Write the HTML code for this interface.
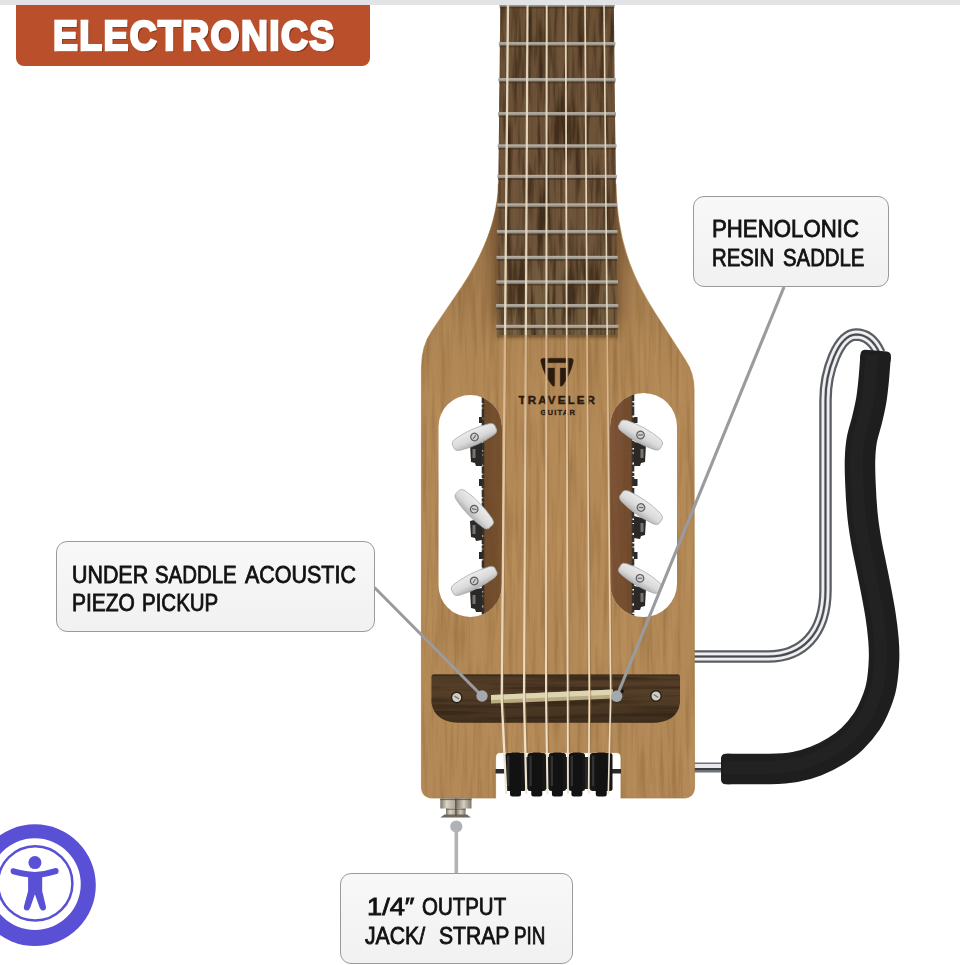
<!DOCTYPE html>
<html lang="en">
<head>
<meta charset="utf-8">
<title>Electronics - Traveler Guitar</title>
<style>
html,body{margin:0;padding:0;background:#fff;}
body{width:960px;height:965px;position:relative;overflow:hidden;font-family:"Liberation Sans",sans-serif;}
#topbar{position:absolute;left:0;top:0;width:960px;height:4.5px;background:#e2e3e5;}
#banner{position:absolute;left:16px;top:4.5px;width:354px;height:61px;background:#ba4f2c;border-radius:0 0 8px 8px;}
#banner span{position:absolute;left:37px;top:8.6px;font-weight:bold;font-size:42.5px;line-height:46px;color:#fff;white-space:nowrap;transform-origin:0 50%;transform:scaleX(0.877);letter-spacing:1.6px;text-shadow:2.3px 2.3px 0.5px #83341a;-webkit-text-stroke:2.6px #fff;}
#art{position:absolute;left:0;top:0;}
.label{position:absolute;box-sizing:border-box;background:linear-gradient(#f8f8f8,#f1f1f1);border:1px solid #9a9a9a;border-radius:11px;color:#111;font-size:23.4px;white-space:nowrap;-webkit-text-stroke:0.8px #111;}
.label span{position:absolute;display:block;transform-origin:0 50%;}
#l1{left:693px;top:196px;width:196px;height:91px;line-height:29.4px;}
#l2{left:56px;top:540.5px;width:318.5px;height:91.5px;line-height:28.4px;}
#l3{left:340px;top:873px;width:233px;height:90.5px;line-height:28.4px;}
</style>
</head>
<body>
<svg id="art" width="960" height="965" viewBox="0 0 960 965">
<defs>
  <linearGradient id="gBody" x1="0" y1="196" x2="0" y2="800" gradientUnits="userSpaceOnUse">
    <stop offset="0.000" stop-color="#967148"/>
    <stop offset="0.089" stop-color="#9e774c"/>
    <stop offset="0.156" stop-color="#a67e50"/>
    <stop offset="0.238" stop-color="#ad8453"/>
    <stop offset="0.338" stop-color="#b38957"/>
    <stop offset="0.454" stop-color="#b38957"/>
    <stop offset="1.000" stop-color="#b38957"/>
  </linearGradient>
  <linearGradient id="gFoamV" x1="0" y1="0" x2="1" y2="0">
    <stop offset="0" stop-color="#2a2a2a"/><stop offset="0.5" stop-color="#1c1c1c"/><stop offset="1" stop-color="#111"/>
  </linearGradient>

  <linearGradient id="gKnob" x1="0" y1="0" x2="0" y2="1">
    <stop offset="0" stop-color="#ececec"/><stop offset="0.6" stop-color="#d9d9d9"/><stop offset="1" stop-color="#b0b0b0"/>
  </linearGradient>
  <linearGradient id="gWallL" x1="0" y1="0" x2="1" y2="0">
    <stop offset="0" stop-color="#6e4a2b"/><stop offset="1" stop-color="#7c5534"/>
  </linearGradient>
  <linearGradient id="gWallR" x1="0" y1="0" x2="1" y2="0">
    <stop offset="0" stop-color="#80563a"/><stop offset="1" stop-color="#704a2c"/>
  </linearGradient>
  <linearGradient id="gFb" x1="0" y1="4" x2="0" y2="335" gradientUnits="userSpaceOnUse">
    <stop offset="0" stop-color="#6b5136"/><stop offset="0.7" stop-color="#6d5339"/><stop offset="1" stop-color="#766041"/>
  </linearGradient>
  <pattern id="pGrain" width="23" height="60" patternUnits="userSpaceOnUse">
    <rect x="2" y="0" width="1.5" height="60" fill="#4c351c" opacity="0.5"/>
    <rect x="7" y="0" width="2.5" height="60" fill="#8a6a46" opacity="0.35"/>
    <rect x="13" y="0" width="1.2" height="60" fill="#4c351c" opacity="0.45"/>
    <rect x="18" y="0" width="2" height="60" fill="#86653f" opacity="0.35"/>
  </pattern>
  <linearGradient id="gBridge" x1="0" y1="674" x2="0" y2="723" gradientUnits="userSpaceOnUse">
    <stop offset="0" stop-color="#4c3824"/><stop offset="0.3" stop-color="#564029"/><stop offset="0.6" stop-color="#4e3a25"/><stop offset="0.85" stop-color="#463321"/><stop offset="1" stop-color="#3e2c1c"/>
  </linearGradient>
  <linearGradient id="gJack" x1="0" y1="0" x2="1" y2="0">
    <stop offset="0" stop-color="#7d7567"/><stop offset="0.2" stop-color="#d9d4c6"/><stop offset="0.45" stop-color="#b3ab9a"/><stop offset="0.55" stop-color="#8d8474"/><stop offset="0.75" stop-color="#d6d0c2"/><stop offset="1" stop-color="#7d7567"/>
  </linearGradient>

  <filter id="fGrainD" x="0" y="0" width="100%" height="100%" color-interpolation-filters="sRGB">
    <feTurbulence type="fractalNoise" baseFrequency="0.22 0.012" numOctaves="3" seed="7" result="n"/>
    <feColorMatrix in="n" type="matrix" values="0 0 0 0 0.40  0 0 0 0 0.26  0 0 0 0 0.10  2.6 0 0 0 -1.15" result="c"/>
    <feComposite in="c" in2="SourceGraphic" operator="in"/>
  </filter>
  <filter id="fGrainL" x="0" y="0" width="100%" height="100%" color-interpolation-filters="sRGB">
    <feTurbulence type="fractalNoise" baseFrequency="0.18 0.010" numOctaves="3" seed="23" result="n"/>
    <feColorMatrix in="n" type="matrix" values="0 0 0 0 0.86  0 0 0 0 0.70  0 0 0 0 0.46  2.4 0 0 0 -1.1" result="c"/>
    <feComposite in="c" in2="SourceGraphic" operator="in"/>
  </filter>
  <filter id="fGrainFb" x="0" y="0" width="100%" height="100%" color-interpolation-filters="sRGB">
    <feTurbulence type="fractalNoise" baseFrequency="0.16 0.012" numOctaves="3" seed="11" result="n"/>
    <feColorMatrix in="n" type="matrix" values="0 0 0 0 0.20  0 0 0 0 0.13  0 0 0 0 0.07  3.2 0 0 0 -1.35" result="c"/>
    <feComposite in="c" in2="SourceGraphic" operator="in"/>
  </filter>

  <filter id="fGrainH" x="0" y="0" width="100%" height="100%" color-interpolation-filters="sRGB">
    <feTurbulence type="fractalNoise" baseFrequency="0.008 0.22" numOctaves="3" seed="5" result="n"/>
    <feColorMatrix in="n" type="matrix" values="0 0 0 0 0.16  0 0 0 0 0.11  0 0 0 0 0.06  3 0 0 0 -1.3" result="c"/>
    <feComposite in="c" in2="SourceGraphic" operator="in"/>
  </filter>

  <linearGradient id="gShL" x1="0" y1="0" x2="1" y2="0">
    <stop offset="0" stop-color="#5a3c1e" stop-opacity="0"/><stop offset="0.55" stop-color="#5a3c1e" stop-opacity="0.22"/><stop offset="1" stop-color="#5a3c1e" stop-opacity="0.55"/>
  </linearGradient>
  <linearGradient id="gShR" x1="1" y1="0" x2="0" y2="0">
    <stop offset="0" stop-color="#5a3c1e" stop-opacity="0"/><stop offset="0.55" stop-color="#5a3c1e" stop-opacity="0.22"/><stop offset="1" stop-color="#5a3c1e" stop-opacity="0.55"/>
  </linearGradient>
  <linearGradient id="gShB" x1="0" y1="0" x2="0" y2="1">
    <stop offset="0" stop-color="#5a3c1e" stop-opacity="0.45"/><stop offset="1" stop-color="#5a3c1e" stop-opacity="0"/>
  </linearGradient>
  <clipPath id="cBody"><path d="M498.4,184 C498,222 480,262 455,297 L432,331 Q421.5,346 421.5,368 L421.5,786 Q421.5,798 433.5,798 L495.5,798 L495.5,757.5 Q495.5,752.5 500.5,752.5 L616,752.5 Q621,752.5 621,757.5 L621,798 L683,798 Q694.5,798 694.5,786 L694,390 Q694,373 685.5,360.5 L655,313 C641,291 616.5,252 615.9,184 Z"/></clipPath>

  <linearGradient id="gShFade" x1="0" y1="180" x2="0" y2="344" gradientUnits="userSpaceOnUse">
    <stop offset="0" stop-color="#fff"/><stop offset="0.8" stop-color="#fff"/><stop offset="1" stop-color="#000"/>
  </linearGradient>
  <mask id="mShFade" maskUnits="userSpaceOnUse" x="470" y="170" width="180" height="180"><rect x="470" y="170" width="180" height="180" fill="url(#gShFade)"/></mask>

  <linearGradient id="gStr" x1="0" y1="335" x2="0" y2="800" gradientUnits="userSpaceOnUse">
    <stop offset="0" stop-color="#d2b08a"/><stop offset="0.15" stop-color="#d9bb96"/><stop offset="0.35" stop-color="#e2caa8"/><stop offset="0.75" stop-color="#eadcc2"/><stop offset="1" stop-color="#efe6d4"/>
  </linearGradient>
</defs>

<!-- SECTION: hardware arm -->
<g id="arm">
  <path d="M690,656.5 L768,656.5 C802,656.5 825.5,634 825.5,590 L825.5,400 C825.5,372 838,335 856,334.5 C867,334.5 874,341 879.5,353" fill="none" stroke="#5a5d62" stroke-width="12.5" stroke-linecap="butt"/>
  <path d="M690,656.5 L768,656.5 C802,656.5 825.5,634 825.5,590 L825.5,400 C825.5,372 838,335 856,334.5 C867,334.5 874,341 879.5,353" fill="none" stroke="#eff0f2" stroke-width="8"/>
  <path d="M690,656.5 L768,656.5 C802,656.5 825.5,634 825.5,590 L825.5,400 C825.5,372 838,335 856,334.5 C867,334.5 874,341 879.5,353" fill="none" stroke="#c4c6ca" stroke-width="3.2"/>
  <path d="M690,656.5 L768,656.5 C802,656.5 825.5,634 825.5,590 L825.5,400 C825.5,372 838,335 856,334.5 C867,334.5 874,341 879.5,353" fill="none" stroke="#48494e" stroke-width="2"/>
  <path d="M690,767.5 L724,767.5" fill="none" stroke="#6f7378" stroke-width="10"/>
  <path d="M690,766.5 L724,766.5" fill="none" stroke="#e8eaee" stroke-width="5"/>
  <path d="M690,769 L724,769" fill="none" stroke="#3c3f44" stroke-width="2"/>
  <path d="M875.6,356.0 C875.3,360.0 874.4,372.7 873.7,380.0 C873.0,387.3 872.4,393.3 871.3,400.0 C870.2,406.7 868.6,413.3 867.0,420.0 C865.4,426.7 863.0,433.3 861.8,440.0 C860.6,446.7 860.2,452.5 860.0,460.0 C859.8,467.5 860.1,475.8 860.5,485.0 C860.9,494.2 861.6,505.8 862.5,515.0 C863.4,524.2 864.6,531.7 866.0,540.0 C867.4,548.3 869.3,556.7 871.0,565.0 C872.7,573.3 874.4,581.7 876.0,590.0 C877.6,598.3 879.2,606.7 880.5,615.0 C881.8,623.3 882.9,632.5 883.5,640.0 C884.1,647.5 884.3,652.5 884.0,660.0 C883.7,667.5 882.8,677.8 881.5,685.0 C880.2,692.2 878.4,697.0 876.0,703.0 C873.6,709.0 871.0,715.0 867.0,721.0 C863.0,727.0 857.2,734.0 852.0,739.0 C846.8,744.0 842.0,747.3 836.0,751.0 C830.0,754.7 822.8,758.3 816.0,761.0 C809.2,763.7 802.7,765.7 795.0,767.0 C787.3,768.3 781.3,768.7 770.0,769.0 C758.7,769.3 734.2,769.0 727.0,769.0" fill="none" stroke="#1e1e1e" stroke-width="30.5" stroke-linecap="butt" stroke-linejoin="round"/>
  <rect x="-15.25" y="0" width="30.5" height="13" rx="4.5" fill="#1e1e1e" transform="translate(876.1,350.6) rotate(4.5)"/>
  <rect x="721" y="753.75" width="13" height="30.5" rx="4.5" fill="#1e1e1e"/>
  <path d="M875.6,356.0 C875.3,360.0 874.4,372.7 873.7,380.0 C873.0,387.3 872.4,393.3 871.3,400.0 C870.2,406.7 868.6,413.3 867.0,420.0 C865.4,426.7 863.0,433.3 861.8,440.0 C860.6,446.7 860.2,452.5 860.0,460.0 C859.8,467.5 860.1,475.8 860.5,485.0 C860.9,494.2 861.6,505.8 862.5,515.0 C863.4,524.2 864.6,531.7 866.0,540.0 C867.4,548.3 869.3,556.7 871.0,565.0 C872.7,573.3 874.4,581.7 876.0,590.0 C877.6,598.3 879.2,606.7 880.5,615.0 C881.8,623.3 882.9,632.5 883.5,640.0 C884.1,647.5 884.3,652.5 884.0,660.0 C883.7,667.5 882.8,677.8 881.5,685.0 C880.2,692.2 878.4,697.0 876.0,703.0 C873.6,709.0 871.0,715.0 867.0,721.0 C863.0,727.0 857.2,734.0 852.0,739.0 C846.8,744.0 842.0,747.3 836.0,751.0 C830.0,754.7 822.8,758.3 816.0,761.0 C809.2,763.7 802.7,765.7 795.0,767.0 C787.3,768.3 781.3,768.7 770.0,769.0 C758.7,769.3 734.2,769.0 727.0,769.0" fill="none" stroke="#303030" stroke-width="13" stroke-linecap="butt" opacity="0.25" transform="translate(-3.5,-1.5)"/>
</g>
<!-- SECTION: body -->
<g id="body">
  <path d="M498.4,184 C498,222 480,262 455,297 L432,331 Q421.5,346 421.5,368 L421.5,786 Q421.5,798 433.5,798 L495.5,798 L495.5,757.5 Q495.5,752.5 500.5,752.5 L616,752.5 Q621,752.5 621,757.5 L621,798 L683,798 Q694.5,798 694.5,786 L694,390 Q694,373 685.5,360.5 L655,313 C641,291 616.5,252 615.9,184 Z M438.5,426.75 A31.75,31.75 0 0 1 502,426.75 L502,585.25 A31.75,31.75 0 0 1 438.5,585.25 Z M610,426.5 A33.5,33.5 0 0 1 677,426.5 L677,583.5 A33.5,33.5 0 0 1 610,583.5 Z" fill="url(#gBody)" fill-rule="evenodd"/>
  <path d="M498.4,184 C498,222 480,262 455,297 L432,331 Q421.5,346 421.5,368 L421.5,786 Q421.5,798 433.5,798 L495.5,798 L495.5,757.5 Q495.5,752.5 500.5,752.5 L616,752.5 Q621,752.5 621,757.5 L621,798 L683,798 Q694.5,798 694.5,786 L694,390 Q694,373 685.5,360.5 L655,313 C641,291 616.5,252 615.9,184 Z M438.5,426.75 A31.75,31.75 0 0 1 502,426.75 L502,585.25 A31.75,31.75 0 0 1 438.5,585.25 Z M610,426.5 A33.5,33.5 0 0 1 677,426.5 L677,583.5 A33.5,33.5 0 0 1 610,583.5 Z" fill="#000" fill-rule="evenodd" filter="url(#fGrainD)" opacity="0.24"/>
  <path d="M498.4,184 C498,222 480,262 455,297 L432,331 Q421.5,346 421.5,368 L421.5,786 Q421.5,798 433.5,798 L495.5,798 L495.5,757.5 Q495.5,752.5 500.5,752.5 L616,752.5 Q621,752.5 621,757.5 L621,798 L683,798 Q694.5,798 694.5,786 L694,390 Q694,373 685.5,360.5 L655,313 C641,291 616.5,252 615.9,184 Z M438.5,426.75 A31.75,31.75 0 0 1 502,426.75 L502,585.25 A31.75,31.75 0 0 1 438.5,585.25 Z M610,426.5 A33.5,33.5 0 0 1 677,426.5 L677,583.5 A33.5,33.5 0 0 1 610,583.5 Z" fill="#000" fill-rule="evenodd" filter="url(#fGrainL)" opacity="0.14"/>
  <path d="M498.4,184 C498,222 480,262 455,297 L432,331 Q421.5,346 421.5,368 L421.5,786 Q421.5,798 433.5,798 L495.5,798 L495.5,757.5 Q495.5,752.5 500.5,752.5 L616,752.5 Q621,752.5 621,757.5 L621,798 L683,798 Q694.5,798 694.5,786 L694,390 Q694,373 685.5,360.5 L655,313 C641,291 616.5,252 615.9,184 Z" fill="none" stroke="#a87f49" stroke-width="1.2" opacity="0.7"/>
</g>
<!-- SECTION: slots -->
<g id="slots">
  <clipPath id="cSlotL"><path d="M438.5,426.75 A31.75,31.75 0 0 1 502,426.75 L502,585.25 A31.75,31.75 0 0 1 438.5,585.25 Z"/></clipPath>
  <clipPath id="cSlotR"><path d="M610,426.5 A33.5,33.5 0 0 1 677,426.5 L677,583.5 A33.5,33.5 0 0 1 610,583.5 Z"/></clipPath>
  <g clip-path="url(#cSlotL)">
    <rect x="482.5" y="390" width="22" height="232" fill="url(#gWallL)"/>
    <rect x="482.5" y="390" width="22" height="232" fill="#000" filter="url(#fGrainD)" opacity="0.25"/>
    <path d="M483,396 L483,616" stroke="#34302c" stroke-width="2.6" stroke-dasharray="7 1.5 3 1 9 2"/>
  </g>
  <g clip-path="url(#cSlotR)">
    <rect x="608" y="390" width="24.5" height="232" fill="url(#gWallR)"/>
    <rect x="608" y="390" width="24.5" height="232" fill="#000" filter="url(#fGrainD)" opacity="0.25"/>
    <path d="M633,394 L633,616" stroke="#34302c" stroke-width="2.6" stroke-dasharray="7 1.5 3 1 9 2"/>
  </g>
  <g fill="#2b2927">
    <path d="M470,444 L482,442 L482,466 L476,466 L475,463 L471,462 Z"/>
    <path d="M470,521 L482,518 L482,540 L476,541 L475,538 L471,537 Z"/>
    <path d="M470,590 L482,588 L482,612 L476,612 L475,609 L471,608 Z"/>
    <path d="M646,444 L634,442 L634,466 L640,466 L641,463 L645,462 Z"/>
    <path d="M646,519 L634,516 L634,538 L640,539 L641,536 L645,535 Z"/>
    <path d="M646,588 L634,586 L634,610 L640,610 L641,607 L645,606 Z"/>
    <rect x="479" y="417" width="3.5" height="6"/><rect x="479" y="479" width="3.5" height="7"/><rect x="479" y="552" width="3.5" height="7"/>
    <rect x="634" y="417" width="3.5" height="6"/><rect x="634" y="479" width="3.5" height="7"/><rect x="634" y="552" width="3.5" height="7"/>
  </g>
  <g fill="#77736e">
    <rect x="472.5" y="449" width="3" height="9"/><rect x="472.5" y="525" width="3" height="9"/><rect x="472.5" y="595" width="3" height="9"/>
    <rect x="640.5" y="449" width="3" height="9"/><rect x="640.5" y="523" width="3" height="9"/><rect x="640.5" y="593" width="3" height="9"/>
  </g>
<g transform="translate(474.5,437) rotate(-24.5)">
    <path d="M-23.25,-2.6 Q-22.95,-5.1 -18.75,-6.1 Q0,-9.7 18.75,-6.1 Q22.95,-5.1 23.25,-2.6 L23.25,2.6 Q22.95,5.1 18.75,6.1 Q0,9.7 -18.75,6.1 Q-22.95,5.1 -23.25,2.6 Z" fill="url(#gKnob)" stroke="#a8a8a8" stroke-width="0.7"/>
    <circle cx="0" cy="0" r="3.8" fill="#cfcfcf" stroke="#5e5e5e" stroke-width="1.2"/>
    <path d="M-2,1.2 L2,-1.2" stroke="#6a6a6a" stroke-width="1.1"/>
  </g><g transform="translate(474.2,509.2) rotate(46)">
    <path d="M-24.0,-2.6 Q-23.7,-5.35 -19.5,-6.35 Q0,-9.95 19.5,-6.35 Q23.7,-5.35 24.0,-2.6 L24.0,2.6 Q23.7,5.35 19.5,6.35 Q0,9.95 -19.5,6.35 Q-23.7,5.35 -24.0,2.6 Z" fill="url(#gKnob)" stroke="#a8a8a8" stroke-width="0.7"/>
    <circle cx="0" cy="0" r="3.8" fill="#cfcfcf" stroke="#5e5e5e" stroke-width="1.2"/>
    <path d="M-2,1.2 L2,-1.2" stroke="#6a6a6a" stroke-width="1.1"/>
  </g><g transform="translate(474.2,581) rotate(-26.5)">
    <path d="M-24.25,-2.6 Q-23.95,-5.1 -19.75,-6.1 Q0,-9.7 19.75,-6.1 Q23.95,-5.1 24.25,-2.6 L24.25,2.6 Q23.95,5.1 19.75,6.1 Q0,9.7 -19.75,6.1 Q-23.95,5.1 -24.25,2.6 Z" fill="url(#gKnob)" stroke="#a8a8a8" stroke-width="0.7"/>
    <circle cx="0" cy="0" r="3.8" fill="#cfcfcf" stroke="#5e5e5e" stroke-width="1.2"/>
    <path d="M-2,1.2 L2,-1.2" stroke="#6a6a6a" stroke-width="1.1"/>
  </g><g transform="translate(640.5,435) rotate(29)">
    <path d="M-23.75,-2.6 Q-23.45,-5.1 -19.25,-6.1 Q0,-9.7 19.25,-6.1 Q23.45,-5.1 23.75,-2.6 L23.75,2.6 Q23.45,5.1 19.25,6.1 Q0,9.7 -19.25,6.1 Q-23.45,5.1 -23.75,2.6 Z" fill="url(#gKnob)" stroke="#a8a8a8" stroke-width="0.7"/>
    <circle cx="0" cy="0" r="3.8" fill="#cfcfcf" stroke="#5e5e5e" stroke-width="1.2"/>
    <path d="M-2,1.2 L2,-1.2" stroke="#6a6a6a" stroke-width="1.1"/>
  </g><g transform="translate(641,507.5) rotate(35)">
    <path d="M-24.0,-2.6 Q-23.7,-5.35 -19.5,-6.35 Q0,-9.95 19.5,-6.35 Q23.7,-5.35 24.0,-2.6 L24.0,2.6 Q23.7,5.35 19.5,6.35 Q0,9.95 -19.5,6.35 Q-23.7,5.35 -24.0,2.6 Z" fill="url(#gKnob)" stroke="#a8a8a8" stroke-width="0.7"/>
    <circle cx="0" cy="0" r="3.8" fill="#cfcfcf" stroke="#5e5e5e" stroke-width="1.2"/>
    <path d="M-2,1.2 L2,-1.2" stroke="#6a6a6a" stroke-width="1.1"/>
  </g><g transform="translate(640,578.3) rotate(30)">
    <path d="M-23.25,-2.6 Q-22.95,-5.1 -18.75,-6.1 Q0,-9.7 18.75,-6.1 Q22.95,-5.1 23.25,-2.6 L23.25,2.6 Q22.95,5.1 18.75,6.1 Q0,9.7 -18.75,6.1 Q-22.95,5.1 -23.25,2.6 Z" fill="url(#gKnob)" stroke="#a8a8a8" stroke-width="0.7"/>
    <circle cx="0" cy="0" r="3.8" fill="#cfcfcf" stroke="#5e5e5e" stroke-width="1.2"/>
    <path d="M-2,1.2 L2,-1.2" stroke="#6a6a6a" stroke-width="1.1"/>
  </g>
</g>
<!-- SECTION: fretboard -->
<g id="fretboard">
  <g clip-path="url(#cBody)">
    <g mask="url(#mShFade)">
      <rect x="481" y="180" width="17" height="164" fill="url(#gShL)"/>
      <rect x="616" y="180" width="17" height="164" fill="url(#gShR)"/>
    </g>
    <rect x="497" y="335" width="120.5" height="6" fill="url(#gShB)"/>
  </g>
  <path d="M500.3,4 L613.8,4 L617.5,335 L496.8,335 Z" fill="url(#gFb)"/>
  <path d="M500.3,4 L613.8,4 L617.5,335 L496.8,335 Z" fill="url(#pGrain)" opacity="0.35"/>
  <path d="M500.3,4 L613.8,4 L617.5,335 L496.8,335 Z" fill="#000" filter="url(#fGrainFb)" opacity="0.75"/>
  <rect x="499.8" y="6.4" width="114.5" height="2" fill="#3f2c18" opacity="0.55"/>
  <rect x="499.3" y="3.4" width="115.5" height="3.2" fill="#9a958b"/>
  <rect x="499.3" y="3.4" width="115.5" height="1.6" fill="#b3aea3"/>
  <rect x="499.4" y="45.2" width="115.4" height="2" fill="#3f2c18" opacity="0.55"/>
  <rect x="498.9" y="42.2" width="116.4" height="3.2" fill="#9a958b"/>
  <rect x="498.9" y="42.2" width="116.4" height="1.6" fill="#b3aea3"/>
  <rect x="499.0" y="81.2" width="116.2" height="2" fill="#3f2c18" opacity="0.55"/>
  <rect x="498.5" y="78.2" width="117.2" height="3.2" fill="#9a958b"/>
  <rect x="498.5" y="78.2" width="117.2" height="1.6" fill="#b3aea3"/>
  <rect x="498.6" y="115.2" width="116.9" height="2" fill="#3f2c18" opacity="0.55"/>
  <rect x="498.1" y="112.2" width="117.9" height="3.2" fill="#9a958b"/>
  <rect x="498.1" y="112.2" width="117.9" height="1.6" fill="#b3aea3"/>
  <rect x="498.3" y="147.5" width="117.6" height="2" fill="#3f2c18" opacity="0.55"/>
  <rect x="497.8" y="144.5" width="118.6" height="3.2" fill="#9a958b"/>
  <rect x="497.8" y="144.5" width="118.6" height="1.6" fill="#b3aea3"/>
  <rect x="498.0" y="177.9" width="118.3" height="2" fill="#3f2c18" opacity="0.55"/>
  <rect x="497.5" y="174.9" width="119.3" height="3.2" fill="#9a958b"/>
  <rect x="497.5" y="174.9" width="119.3" height="1.6" fill="#b3aea3"/>
  <rect x="497.7" y="206.5" width="118.9" height="2" fill="#3f2c18" opacity="0.55"/>
  <rect x="497.2" y="203.5" width="119.9" height="3.2" fill="#9a958b"/>
  <rect x="497.2" y="203.5" width="119.9" height="1.6" fill="#b3aea3"/>
  <rect x="497.4" y="233.2" width="119.5" height="2" fill="#3f2c18" opacity="0.55"/>
  <rect x="496.9" y="230.2" width="120.5" height="3.2" fill="#9a958b"/>
  <rect x="496.9" y="230.2" width="120.5" height="1.6" fill="#b3aea3"/>
  <rect x="497.1" y="258.9" width="120.0" height="2" fill="#3f2c18" opacity="0.55"/>
  <rect x="496.6" y="255.9" width="121.0" height="3.2" fill="#9a958b"/>
  <rect x="496.6" y="255.9" width="121.0" height="1.6" fill="#b3aea3"/>
  <rect x="496.9" y="283.5" width="120.6" height="2" fill="#3f2c18" opacity="0.55"/>
  <rect x="496.4" y="280.5" width="121.6" height="3.2" fill="#9a958b"/>
  <rect x="496.4" y="280.5" width="121.6" height="1.6" fill="#b3aea3"/>
  <rect x="496.6" y="307.2" width="121.1" height="2" fill="#3f2c18" opacity="0.55"/>
  <rect x="496.1" y="304.2" width="122.1" height="3.2" fill="#9a958b"/>
  <rect x="496.1" y="304.2" width="122.1" height="1.6" fill="#b3aea3"/>
  <rect x="496.4" y="327.9" width="121.5" height="2" fill="#3f2c18" opacity="0.55"/>
  <rect x="495.9" y="324.9" width="122.5" height="3.2" fill="#9a958b"/>
  <rect x="495.9" y="324.9" width="122.5" height="1.6" fill="#b3aea3"/>
  <rect x="496.8" y="335" width="120.7" height="2.5" fill="#6f5232" opacity="0.5"/>
</g>
<!-- SECTION: bridge -->
<g id="bridge">
  <path d="M433.5,674.5 L678,674.5 Q680,674.5 680,676.5 L680,703 Q677,722.8 652,722.8 L460,722.8 Q435,722.8 431.5,703 L431.5,676.5 Q431.5,674.5 433.5,674.5 Z" fill="url(#gBridge)"/>
  <path d="M433.5,674.5 L678,674.5 Q680,674.5 680,676.5 L680,703 Q677,722.8 652,722.8 L460,722.8 Q435,722.8 431.5,703 L431.5,676.5 Q431.5,674.5 433.5,674.5 Z" fill="#000" filter="url(#fGrainH)" opacity="0.55"/>
  <path d="M433,675.3 L679,675.3" stroke="#3a2a18" stroke-width="1.4" opacity="0.6"/>
  <ellipse cx="620.5" cy="691.5" rx="3.2" ry="2.4" fill="#1d130a"/>
  <path d="M491,695 L613,689.6 L613,698.4 L491,703.6 Z" fill="#b9aa80"/>
  <path d="M491,695 L613,689.6 L613,694.8 L491,700 Z" fill="#ddd4b2"/>
  <g>
    <circle cx="456.7" cy="697.5" r="5.2" fill="#cfcdc8" stroke="#2c1e10" stroke-width="1.4"/>
    <path d="M454.5,696 L459,699" stroke="#77736c" stroke-width="1.5"/>
    <circle cx="656" cy="696" r="5.2" fill="#cfcdc8" stroke="#2c1e10" stroke-width="1.4"/>
    <path d="M653.8,694.5 L658.3,697.5" stroke="#77736c" stroke-width="1.5"/>
  </g>
</g>
<!-- SECTION: rollers -->
<g id="rollers">
  <rect x="495.5" y="769" width="125.5" height="4.5" fill="#2a2a2a"/>
  <rect x="507" y="757" width="105" height="32" fill="#262626"/>
  <rect x="505" y="753" width="21" height="38" rx="2.5" fill="#171717"/>
  <rect x="510.0" y="752.5" width="11" height="44" rx="2.5" fill="#121212"/>
  <rect x="507" y="756" width="2.2" height="30" fill="#3a3a3a" opacity="0.8"/>
  <rect x="527.5" y="753" width="18.5" height="38" rx="2.5" fill="#171717"/>
  <rect x="531.25" y="752.5" width="11" height="44" rx="2.5" fill="#121212"/>
  <rect x="529.5" y="756" width="2.2" height="30" fill="#3a3a3a" opacity="0.8"/>
  <rect x="548.8" y="753" width="17.200000000000045" height="38" rx="2.5" fill="#171717"/>
  <rect x="551.9" y="752.5" width="11" height="44" rx="2.5" fill="#121212"/>
  <rect x="550.8" y="756" width="2.2" height="30" fill="#3a3a3a" opacity="0.8"/>
  <rect x="568.8" y="753" width="16.200000000000045" height="38" rx="2.5" fill="#171717"/>
  <rect x="571.4" y="752.5" width="11" height="44" rx="2.5" fill="#121212"/>
  <rect x="570.8" y="756" width="2.2" height="30" fill="#3a3a3a" opacity="0.8"/>
  <rect x="590" y="753" width="22.5" height="38" rx="2.5" fill="#171717"/>
  <rect x="595.75" y="752.5" width="11" height="44" rx="2.5" fill="#121212"/>
  <rect x="592" y="756" width="2.2" height="30" fill="#3a3a3a" opacity="0.8"/>
</g>
<!-- SECTION: strings -->
<g id="logo" fill="#2b1a0f" stroke="#2b1a0f" stroke-width="0.45" stroke-linejoin="round">
  <path fill-rule="evenodd" stroke-width="0.3" d="M540.7,361.2 Q540.3,358.2 543.6,358.2 L570.4,358.2 Q573.7,358.2 573.3,361.2 Q570.6,374.2 563,385 Q561.6,386.8 560.2,386 L560.2,368 L567.6,368 L567.6,362.7 L546.4,362.7 L546.4,368 L554.6,368 L554.6,386 Q553.2,386.8 551.8,385 Q543.6,374.2 540.7,361.2 Z"/>
  <text x="557.8" y="403.6" text-anchor="middle" font-family="Liberation Sans, sans-serif" font-weight="bold" font-size="11.6" letter-spacing="2.1">TRAVELER</text>
  <text x="558.3" y="415.4" text-anchor="middle" font-family="Liberation Sans, sans-serif" font-weight="bold" font-size="7.6" letter-spacing="1.2" stroke-width="0.3">GUITAR</text>
</g>
<g id="strings">
  <path d="M508,4 L505.00,335" stroke="#e4d6bd" stroke-width="2.3" fill="none"/>
  <path d="M506.30,335 L503.0,698.7 L507.6,753" stroke="#94703f" stroke-width="1.2" fill="none" opacity="0.55"/>
  <path d="M505.00,335 L501.7,698.7 L506.3,794" stroke="url(#gStr)" stroke-width="2.3" fill="none"/>
  <path d="M527.5,4 L525.83,335" stroke="#e4d6bd" stroke-width="2.2" fill="none"/>
  <path d="M527.13,335 L525.3,697.9 L527.5999999999999,753" stroke="#94703f" stroke-width="1.2" fill="none" opacity="0.55"/>
  <path d="M525.83,335 L524,697.9 L526.3,794" stroke="url(#gStr)" stroke-width="2.2" fill="none"/>
  <path d="M546.7,4 L546.37,335" stroke="#e4d6bd" stroke-width="2.0" fill="none"/>
  <path d="M547.67,335 L547.3,697 L548.8,753" stroke="#94703f" stroke-width="1.2" fill="none" opacity="0.55"/>
  <path d="M546.37,335 L546,697 L547.5,794" stroke="url(#gStr)" stroke-width="2.0" fill="none"/>
  <path d="M565.7,4 L566.66,335" stroke="#e4d6bd" stroke-width="1.8" fill="none"/>
  <path d="M567.96,335 L569.0,696.2 L569.3,753" stroke="#94703f" stroke-width="1.2" fill="none" opacity="0.55"/>
  <path d="M566.66,335 L567.7,696.2 L568,794" stroke="url(#gStr)" stroke-width="1.8" fill="none"/>
  <path d="M585,4 L587.06,335" stroke="#e4d6bd" stroke-width="1.7" fill="none"/>
  <path d="M588.36,335 L590.5999999999999,695.4 L590.0,753" stroke="#94703f" stroke-width="1.2" fill="none" opacity="0.55"/>
  <path d="M587.06,335 L589.3,695.4 L588.7,794" stroke="url(#gStr)" stroke-width="1.7" fill="none"/>
  <path d="M604,4 L607.21,335" stroke="#e4d6bd" stroke-width="1.6" fill="none"/>
  <path d="M608.51,335 L612.0,694.6 L609.5999999999999,753" stroke="#94703f" stroke-width="1.2" fill="none" opacity="0.55"/>
  <path d="M607.21,335 L610.7,694.6 L608.3,794" stroke="url(#gStr)" stroke-width="1.6" fill="none"/>
</g>
<!-- SECTION: logo -->

<!-- SECTION: jack -->
<g id="jack">
  <rect x="440.3" y="798.5" width="31.2" height="10" fill="url(#gJack)"/>
  <rect x="440.3" y="798.5" width="31.2" height="1.6" fill="#5b5347" opacity="0.8"/>
  <rect x="446" y="808.5" width="19.6" height="6.5" fill="url(#gJack)"/>
  <rect x="446" y="808.5" width="19.6" height="1.5" fill="#6d6558" opacity="0.7"/>
  <path d="M440.3,817.6 L444.5,814.6 L467,814.6 L470.8,817.6 Z" fill="#6e675b"/>
  <rect x="455" y="798.5" width="1.6" height="17" fill="#4a4339" opacity="0.7"/>
</g>
<!-- SECTION: pointers -->
<g id="pointers">
  <path d="M374.5,587.5 L482,696" stroke="#999b9f" stroke-width="3.1" fill="none"/>
  <circle cx="482" cy="696" r="5.7" fill="#a4a9af"/>
  <path d="M784,287 L616.7,696.5" stroke="#999b9f" stroke-width="3.1" fill="none"/>
  <circle cx="616.7" cy="696.3" r="5.7" fill="#a4a9af"/>
  <path d="M456.3,826.5 L456.3,874" stroke="#b1b2b5" stroke-width="3.6" fill="none"/>
  <circle cx="456.3" cy="826.5" r="6.1" fill="#b1b2b5"/>
</g>
<!-- SECTION: a11y -->
<g id="a11y">
  <circle cx="34.9" cy="885.2" r="60.9" fill="#5a50d6"/>
  <circle cx="34.85" cy="884.1" r="45.9" fill="#fff"/>
  <circle cx="35.2" cy="883.4" r="37.2" fill="none" stroke="#5a50d6" stroke-width="2.5"/>
  <g fill="#5a50d6">
    <circle cx="34.9" cy="862.6" r="6.5"/>
    <path d="M13.6,868.3 Q10.4,868 10.6,871.2 Q10.8,874.2 13.8,874.5 Q21,876.5 28.1,877.3 L28.1,891 L23.9,906.6 Q23.3,910 26.4,910.4 Q29.3,910.8 30.3,907.6 L34.9,894.2 L39.6,907.6 Q40.6,910.8 43.4,910.4 Q46.5,910 45.9,906.6 L42.2,891 L42.2,877.3 Q49,876.5 55.6,874.3 Q58.7,873.8 58.6,870.9 Q58.4,867.8 55.4,868.1 Q45,871.7 34.9,871.9 Q24.8,871.7 13.6,868.3 Z"/>
  </g>
</g>
</svg>

<div id="topbar"></div>
<div id="banner"><span>ELECTRONICS</span></div>
<div class="label" id="l1"><span style="left:18.2px;top:17.9px;transform:scaleX(0.950)">PHENOLONIC</span><span style="left:18.2px;top:47.3px;transform:scaleX(0.870)">RESIN</span><span style="left:88.5px;top:47.3px;transform:scaleX(0.870)">SADDLE</span></div>
<div class="label" id="l2"><span style="left:14.9px;top:19.0px;transform:scaleX(0.915)">UNDER</span><span style="left:98.4px;top:19.0px;transform:scaleX(0.873)">SADDLE</span><span style="left:187.7px;top:19.0px;transform:scaleX(0.918)">ACOUSTIC</span><span style="left:14.9px;top:47.0px;transform:scaleX(0.896)">PIEZO</span><span style="left:85.2px;top:47.0px;transform:scaleX(0.876)">PICKUP</span></div>
<div class="label" id="l3"><span style="left:25.7px;top:19.0px;transform:scaleX(1.163)">1/4&#8243;</span><span style="left:80.8px;top:19.0px;transform:scaleX(0.875)">OUTPUT</span><span style="left:24.0px;top:48.0px;transform:scaleX(0.907)">JACK/</span><span style="left:97.5px;top:48.0px;transform:scaleX(0.903)">STRAP</span><span style="left:172.6px;top:48.0px;transform:scaleX(0.805)">PIN</span></div>
</body>
</html>
